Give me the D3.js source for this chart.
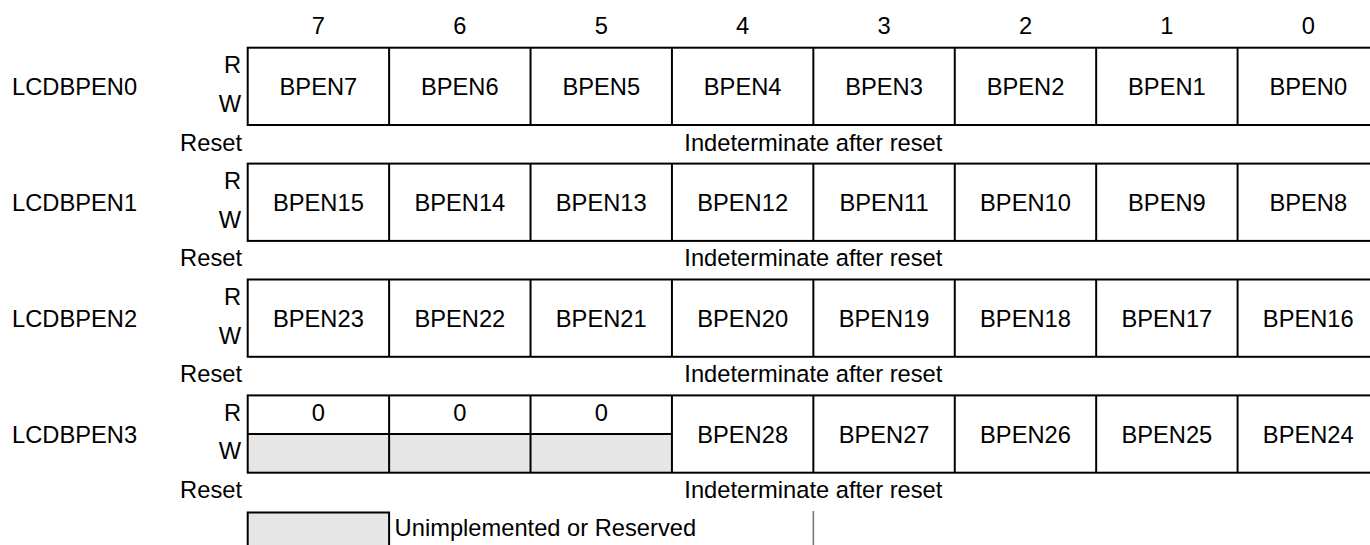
<!DOCTYPE html>
<html><head><meta charset="utf-8">
<script src="https://cdn.jsdelivr.net/npm/d3@7"></script>
<style>
html,body{margin:0;padding:0;background:#fff;}
svg{display:block;font-family:"Liberation Sans",Arial,Helvetica,sans-serif;}
</style></head>
<body>
<svg id="c" width="1370" height="545"></svg>
<script>
const bitNumbers = [7,6,5,4,3,2,1,0];
const registers = ["LCDBPEN0","LCDBPEN1","LCDBPEN2","LCDBPEN3"];
const fieldNames = [
  ["BPEN7","BPEN6","BPEN5","BPEN4","BPEN3","BPEN2","BPEN1","BPEN0"],
  ["BPEN15","BPEN14","BPEN13","BPEN12","BPEN11","BPEN10","BPEN9","BPEN8"],
  ["BPEN23","BPEN22","BPEN21","BPEN20","BPEN19","BPEN18","BPEN17","BPEN16"],
  ["0","0","0","BPEN28","BPEN27","BPEN26","BPEN25","BPEN24"]
];
// reserved: read value shown in R half, W half greyed
const reserved = [
  [false,false,false,false,false,false,false,false],
  [false,false,false,false,false,false,false,false],
  [false,false,false,false,false,false,false,false],
  [true,true,true,false,false,false,false,false]
];
const resetTexts = ["Indeterminate after reset","Indeterminate after reset","Indeterminate after reset","Indeterminate after reset"];
const legendText = "Unimplemented or Reserved";

const FS = 23.7;
const svg = d3.select("#c");
const x = d3.scaleBand().domain(bitNumbers).range([247.7, 1379]);
const y = d3.scaleBand().domain(d3.range(registers.length)).range([47.7, 47.7 + 115.9*4]).paddingInner(0).paddingOuter(0);
const boxH = 77.3;
const gridL = x.range()[0], gridR = x.range()[1];
const fill = "#e6e6e6";

// bit number header
svg.selectAll("text.bit").data(bitNumbers).join("text")
  .attr("x", d => x(d) + x.bandwidth()/2).attr("y", 33.5)
  .attr("text-anchor","middle").attr("font-size",FS).text(d => d);

registers.forEach((reg, r) => {
  const top = y(r), bot = top + boxH, mid = top + boxH/2;
  const g = svg.append("g");
  g.append("text").attr("x", 12).attr("y", mid + 8.5).attr("font-size",FS).text(reg);
  g.append("text").attr("x", 241).attr("y", top + 25.5).attr("text-anchor","end").attr("font-size",FS).text("R");
  g.append("text").attr("x", 241).attr("y", top + 64).attr("text-anchor","end").attr("font-size",FS).text("W");
  g.append("text").attr("x", 242).attr("y", bot + 25.5).attr("text-anchor","end").attr("font-size",FS).text("Reset");
  g.append("text").attr("x", (gridL+gridR)/2).attr("y", bot + 25.5).attr("text-anchor","middle").attr("font-size",FS).text(resetTexts[r]);

  bitNumbers.forEach((b, i) => {
    const x0 = x(b), w = x.bandwidth();
    if (reserved[r][i]) {
      g.append("rect").attr("x", x0).attr("y", mid).attr("width", w).attr("height", boxH/2).attr("fill", fill);
      g.append("line").attr("x1", x0).attr("x2", x0 + w).attr("y1", mid).attr("y2", mid).attr("stroke","#000").attr("stroke-width",2);
      g.append("text").attr("x", x0 + w/2).attr("y", top + 25.5).attr("text-anchor","middle").attr("font-size",FS).text(fieldNames[r][i]);
    } else {
      g.append("text").attr("x", x0 + w/2).attr("y", mid + 8.5).attr("text-anchor","middle").attr("font-size",FS).text(fieldNames[r][i]);
    }
  });
  // outline
  g.append("rect").attr("x", gridL).attr("y", top).attr("width", gridR-gridL).attr("height", boxH)
    .attr("fill","none").attr("stroke","#000").attr("stroke-width",2);
  bitNumbers.slice(1).forEach(b => {
    g.append("line").attr("x1", x(b)).attr("x2", x(b)).attr("y1", top).attr("y2", bot).attr("stroke","#000").attr("stroke-width",2);
  });
});

// legend
const lx = x(7), lw = x.bandwidth(), ly = 512.5;
svg.append("rect").attr("x", lx).attr("y", ly).attr("width", lw).attr("height", 60)
  .attr("fill", fill).attr("stroke","#000").attr("stroke-width",2);
svg.append("text").attr("x", lx + lw + 5.5).attr("y", 536).attr("font-size",FS).text(legendText);
svg.append("line").attr("x1", (gridL+gridR)/2).attr("x2", (gridL+gridR)/2).attr("y1", 511).attr("y2", 545)
  .attr("stroke","#777").attr("stroke-width",1.6);
</script>
</body></html>
